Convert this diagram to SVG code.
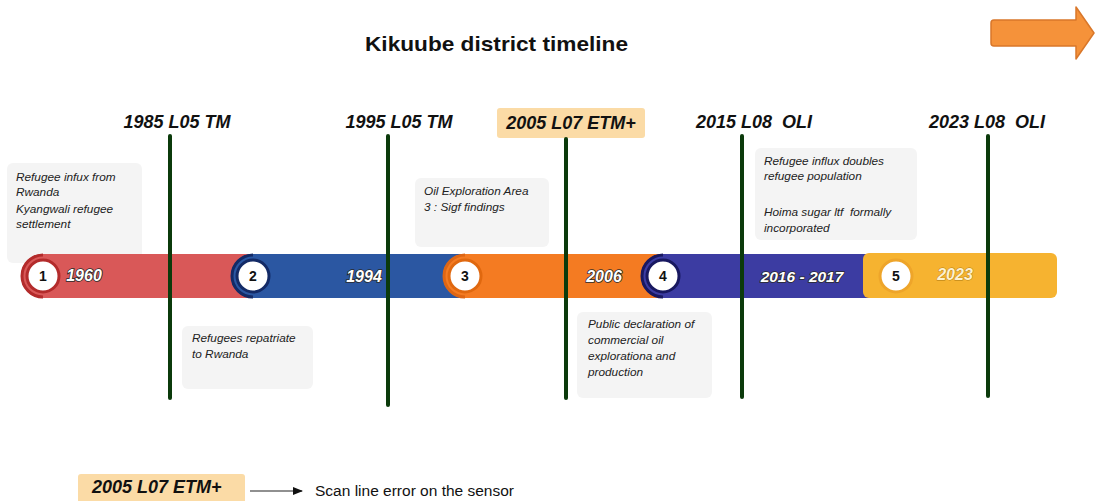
<svg xmlns="http://www.w3.org/2000/svg" width="1095" height="501" viewBox="0 0 1095 501">
<style>
.title{font-family:"Liberation Sans",Arial,sans-serif;font-weight:bold;font-size:21px;fill:#111}
.hdr{font-family:"Liberation Sans",Arial,sans-serif;font-weight:bold;font-style:italic;font-size:18px;fill:#111;white-space:pre}
.note{fill:#f4f4f4}
.nt{font-family:"Liberation Sans",Arial,sans-serif;font-style:italic;font-size:11.8px;fill:#222;white-space:pre}
.vl{stroke:#0b3a0b;stroke-width:4;stroke-linecap:round}
.yr{font-family:"Liberation Sans",Arial,sans-serif;font-weight:bold;font-style:italic;font-size:16px;fill:#fff;stroke:#2a2a2a;stroke-width:1.6;paint-order:stroke;text-anchor:middle}
.num{font-family:"Liberation Sans",Arial,sans-serif;font-weight:bold;font-size:14px;fill:#111;text-anchor:middle}
.tag{fill:#fbdba6}
</style>
<defs>
<marker id="ah" markerWidth="10" markerHeight="8" refX="9" refY="4" orient="auto" markerUnits="userSpaceOnUse">
<path d="M0,0 L10,4 L0,8 Z" fill="#111"/>
</marker>
</defs>

<text class="title" x="365" y="51" textLength="263" lengthAdjust="spacingAndGlyphs">Kikuube district timeline</text>

<g id="arrow-icon">
<path d="M994,20 H1076 V7 L1094,33 L1076,59 V46 H994 Q991,46 991,43 V23 Q991,20 994,20 Z" fill="#f5923a" stroke="#d9772a" stroke-width="1.5" stroke-linejoin="round"/>
</g>

<g id="headers">
<text class="hdr" x="177" y="128" text-anchor="middle">1985 L05 TM</text>
<text class="hdr" x="399" y="128" text-anchor="middle">1995 L05 TM</text>
<rect class="tag" x="497" y="108" width="148" height="30" rx="3"/>
<text class="hdr" x="571" y="129" text-anchor="middle">2005 L07 ETM+</text>
<text class="hdr" x="754" y="128" text-anchor="middle" xml:space="preserve">2015 L08  OLI</text>
<text class="hdr" x="987" y="128" text-anchor="middle" xml:space="preserve">2023 L08  OLI</text>
</g>

<g id="note1">
<rect class="note" x="7" y="163" width="135" height="100" rx="6"/>
<text class="nt" x="16" y="181">Refugee infux from</text>
<text class="nt" x="16" y="196">Rwanda</text>
<text class="nt" x="16" y="213">Kyangwali refugee</text>
<text class="nt" x="16" y="228">settlement</text>
</g>
<g id="note2">
<rect class="note" x="415" y="178" width="134" height="69" rx="6"/>
<text class="nt" x="424" y="195">Oil Exploration Area</text>
<text class="nt" x="424" y="211">3 : Sigf findings</text>
</g>
<g id="note3">
<rect class="note" x="755" y="148" width="162" height="92" rx="6"/>
<text class="nt" x="764" y="165">Refugee influx doubles</text>
<text class="nt" x="764" y="180">refugee population</text>
<text class="nt" x="764" y="216" xml:space="preserve">Hoima sugar ltf  formally</text>
<text class="nt" x="764" y="232">incorporated</text>
</g>
<g id="note4">
<rect class="note" x="182" y="326" width="131" height="63" rx="6"/>
<text class="nt" x="192" y="342">Refugees repatriate</text>
<text class="nt" x="192" y="358">to Rwanda</text>
</g>
<g id="note5">
<rect class="note" x="577" y="312" width="135" height="86" rx="6"/>
<text class="nt" x="588" y="328">Public declaration of</text>
<text class="nt" x="588" y="344">commercial oil</text>
<text class="nt" x="588" y="360">explorationa and</text>
<text class="nt" x="588" y="376">production</text>
</g>

<g id="timeline">
<g id="seg1">
<path d="M258,254 H43 A22,22 0 0 0 43,298 H258 Z" fill="#d95858"/>
<path d="M43,255 A21,21 0 0 0 43,297" fill="none" stroke="#b32b2b" stroke-width="3"/>
</g>
<g id="seg2">
<path d="M468,254 H253 A22,22 0 0 0 253,298 H468 Z" fill="#2b57a2"/>
<path d="M253,255 A21,21 0 0 0 253,297" fill="none" stroke="#132a66" stroke-width="3"/>
</g>
<g id="seg3">
<path d="M666,254 H465 A22,22 0 0 0 465,298 H666 Z" fill="#f47b22"/>
<path d="M465,255 A21,21 0 0 0 465,297" fill="none" stroke="#de6614" stroke-width="3"/>
</g>
<g id="seg4">
<path d="M880,254 H663 A22,22 0 0 0 663,298 H880 Z" fill="#3c3ca2"/>
<path d="M663,255 A21,21 0 0 0 663,297" fill="none" stroke="#181860" stroke-width="3"/>
</g>
<g id="seg5">
<rect x="863" y="253" width="194" height="45" rx="6" fill="#f6b330"/>
</g>
<circle cx="43" cy="276" r="16" fill="#fff" stroke="#b32b2b" stroke-width="3"/>
<text class="num" x="43" y="281">1</text>
<circle cx="253" cy="276" r="16" fill="#fff" stroke="#132a66" stroke-width="3"/>
<text class="num" x="253" y="281">2</text>
<circle cx="465" cy="276" r="16" fill="#fff" stroke="#e0680f" stroke-width="3"/>
<text class="num" x="465" y="281">3</text>
<circle cx="663" cy="276" r="16" fill="#fff" stroke="#181860" stroke-width="3"/>
<text class="num" x="663" y="281">4</text>
<circle cx="896" cy="276" r="16" fill="#fff" stroke="#eea52a" stroke-width="3"/>
<text class="num" x="896" y="281">5</text>
<text class="yr" x="84" y="281">1960</text>
<text class="yr" x="364" y="282">1994</text>
<text class="yr" x="604" y="282">2006</text>
<text class="yr" x="802" y="282" style="font-size:15.5px">2016 - 2017</text>
<text class="yr" x="955" y="280" style="fill:#fdf1cf;stroke:#b07a10;stroke-width:0.8">2023</text>
</g>

<g id="connectors">
<line class="vl" x1="170" y1="136" x2="170" y2="398"/>
<line class="vl" x1="388" y1="136" x2="388" y2="405"/>
<line class="vl" x1="566" y1="139" x2="566" y2="398"/>
<line class="vl" x1="742" y1="136" x2="742" y2="397"/>
<line class="vl" x1="988" y1="136" x2="988" y2="396"/>
<line x1="250" y1="491" x2="302" y2="491" stroke="#222" stroke-width="1.2" marker-end="url(#ah)"/>
</g>

<g id="legend">
<rect class="tag" x="78" y="474" width="167" height="30" rx="3"/>
<text class="hdr" x="92" y="493">2005 L07 ETM+</text>
<text x="315" y="496" font-family="Liberation Sans, Arial, sans-serif" font-size="15.5" fill="#111">Scan line error on the sensor</text>
</g>
</svg>
